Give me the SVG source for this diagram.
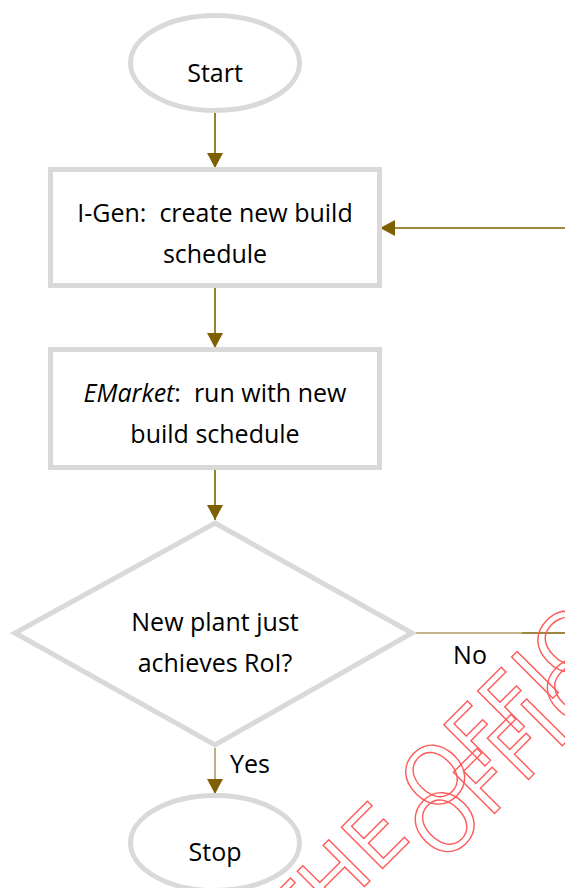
<svg xmlns="http://www.w3.org/2000/svg" width="565" height="888" viewBox="0 0 565 888">
  <style>
    .node { fill: #ffffff; stroke: #d9d9d9; stroke-width: 5; }
    .label { font-family: "Open Sans", "Noto Sans", sans-serif; font-size: 25px; fill: #000000; text-anchor: middle; white-space: pre; }
    .edge { fill: none; stroke: #7f6000; stroke-width: 1.6; }
    .edge-light { fill: none; stroke: #b09a66; stroke-width: 1.6; }
    .stamp { font-family: "DejaVu Sans", sans-serif; font-size: 80px; letter-spacing: 2px; fill: none; stroke: #ff5a5a; stroke-width: 1.4; }
  </style>
  <defs>
    <marker id="arrow" viewBox="0 0 15 16" refX="15" refY="8" markerWidth="15" markerHeight="16" markerUnits="userSpaceOnUse" orient="auto">
      <path d="M0,0 L15,8 L0,16 z" fill="#7f6000"/>
    </marker>
  </defs>
  <rect width="565" height="888" fill="#ffffff"/>

  <!-- connectors -->
  <g id="connectors">
    <line class="edge" x1="215" y1="113" x2="215" y2="168" marker-end="url(#arrow)"/>
    <line class="edge" x1="215" y1="288" x2="215" y2="348" marker-end="url(#arrow)"/>
    <line class="edge" x1="215" y1="470" x2="215" y2="520" marker-end="url(#arrow)"/>
    <!-- No: loop back to I-Gen -->
    <line class="edge-light" x1="416" y1="633" x2="522" y2="633"/>
    <path class="edge" d="M522,633 H600 V228 H380" marker-end="url(#arrow)"/>
    <text class="label" x="470" y="664">No</text>
    <!-- Yes: to Stop -->
    <line class="edge-light" x1="215" y1="748" x2="215" y2="794" marker-end="url(#arrow)"/>
    <text class="label" x="230" y="773" style="text-anchor:start">Yes</text>
  </g>

  <!-- nodes -->
  <g id="start">
    <ellipse class="node" cx="215" cy="63" rx="84.5" ry="47.5"/>
    <text class="label" x="215" y="82">Start</text>
  </g>

  <g id="igen">
    <rect class="node" x="50.5" y="169.5" width="329" height="116"/>
    <text class="label" x="215" y="222">I-Gen:  create new build</text>
    <text class="label" x="215" y="263">schedule</text>
  </g>

  <g id="emarket">
    <rect class="node" x="50.5" y="349.5" width="329" height="118"/>
    <text class="label" x="215" y="402"><tspan font-style="italic">EMarket</tspan>:  run with new</text>
    <text class="label" x="215" y="443">build schedule</text>
  </g>

  <g id="decision">
    <polygon class="node" points="215,523 412,633 215,745 15,633" stroke-linejoin="miter"/>
    <text class="label" x="215" y="631">New plant just</text>
    <text class="label" x="215" y="672">achieves RoI?</text>
  </g>

  <g id="stop">
    <ellipse class="node" cx="215" cy="843" rx="84.5" ry="47.5"/>
    <text class="label" x="215" y="861">Stop</text>
  </g>

  <!-- outlined stamp across the lower right -->
  <g id="stamp">
    <text class="stamp" x="297" y="954" transform="rotate(-45 297 954)">THE OFFICIAL</text>
    <text class="stamp" x="443" y="865" transform="rotate(-45 443 865)">OFFICIAL</text>
  </g>
</svg>
